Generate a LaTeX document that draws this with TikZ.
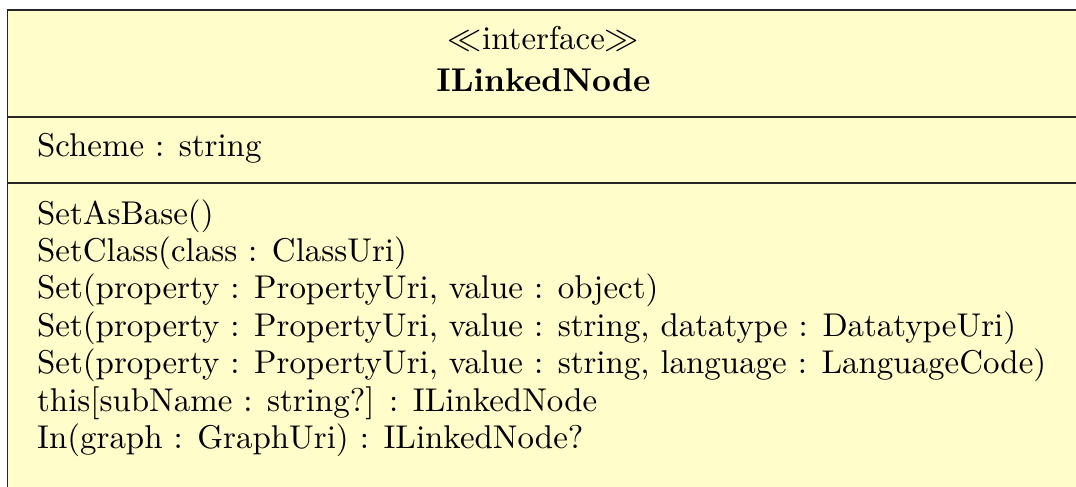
\documentclass[tikz,border=0pt]{standalone}
\begin{document}
\begin{tikzpicture}[x=0.32pt,y=-0.32pt,
  umlfont/.style={font=\fontsize{10.54}{12.6}\selectfont},
  umlline/.style={draw=black!85,line width=0.5pt},
  umltext/.style={umlfont,inner sep=0pt,anchor=base west},
  umltitle/.style={umlfont,inner sep=0pt,anchor=base}]
\definecolor{umlfill}{RGB}{255,253,202}
\useasboundingbox (0,0) rectangle (1076,487);
\clip (0,0) rectangle (1076,487);
% class box and compartment rules
\path[umlline,fill=umlfill] (7.5,10) rectangle (1079.5,560);
\coordinate (l1) at (7.5,117);
\coordinate (r1) at (1079.5,117);
\coordinate (l2) at (7.5,183);
\coordinate (r2) at (1079.5,183);
\draw[umlline] (l1) -- (r1);
\draw[umlline] (l2) -- (r2);
% header
\node[umltitle] (stereo) at (543.5,50) {$\ll$interface$\gg$};
\node[umltitle] (cname) at (543.5,91.7) {\textbf{ILinkedNode}};
% attributes
\node[umltext] (attr) at (36.5,156.7) {Scheme : string};
% operations
\foreach \txt [count=\i from 0] in {
  {SetAsBase()},
  {SetClass(class : ClassUri)},
  {Set(property : PropertyUri, value : object)},
  {Set(property : PropertyUri, value : string, datatype : DatatypeUri)},
  {Set(property : PropertyUri, value : string, language : LanguageCode)},
  {this[subName : string?] : ILinkedNode},
  {In(graph : GraphUri) : ILinkedNode?}}
  \node[umltext] (op\i) at (36.5,224+37.4*\i) {\txt};
\end{tikzpicture}
\end{document}
